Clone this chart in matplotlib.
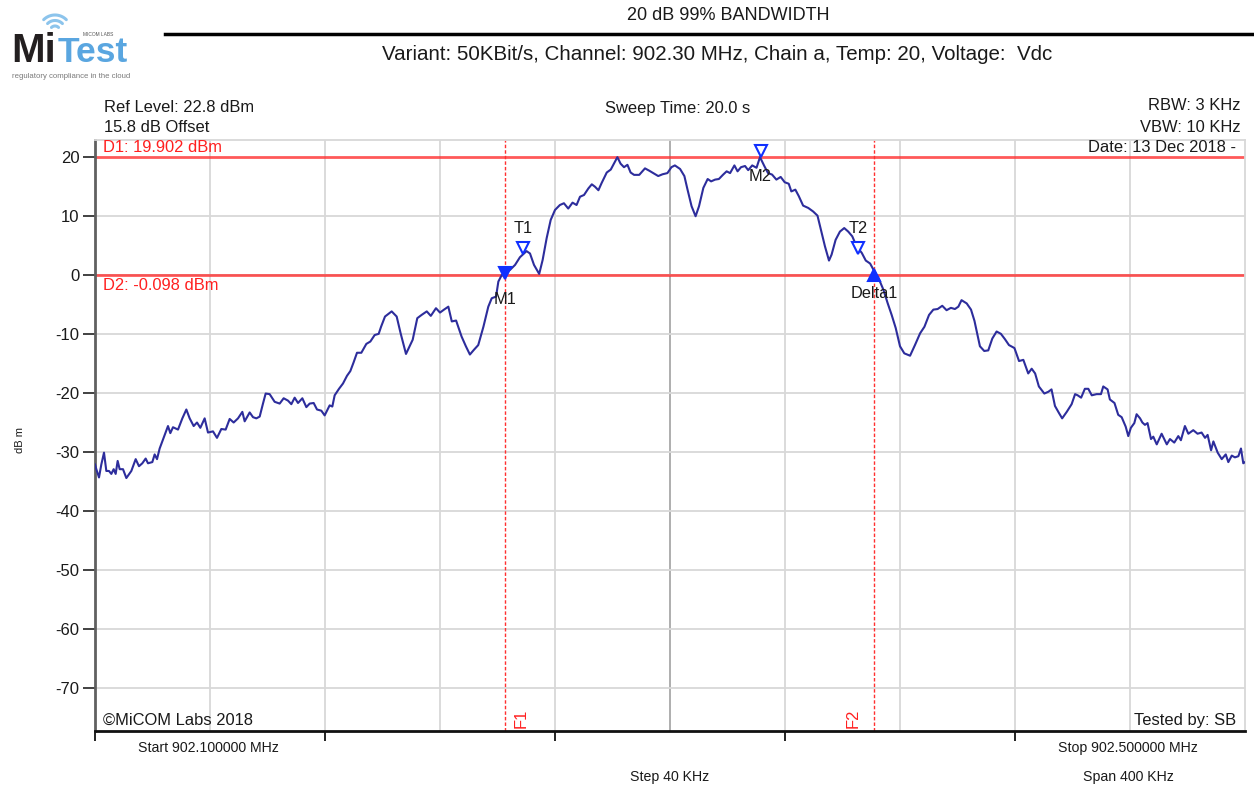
import numpy as np
import matplotlib
matplotlib.use("Agg")
import matplotlib.pyplot as plt
from matplotlib.lines import Line2D

plt.rcParams['font.family'] = ['Liberation Sans', 'DejaVu Sans']

W, H = 1254, 789

# ---------------- data ----------------
start_mhz = 902.1
stop_mhz = 902.5
step_khz = 40

# trace: frequency offset from start (kHz) and level (dBm)
trace_khz = [
    0, 0.46, 1.39, 2.2, 3.13, 3.94, 4.87, 5.68, 6.49, 7.19, 7.88, 8.58, 9.74, 10.9, 12.64,
    14.15, 15.3, 16.46, 17.62, 18.43, 19.94, 20.75, 21.57, 22.49, 23.88, 25.39, 26.2, 27.13,
    28.87, 30.38, 31.77, 32.93, 34.32, 35.48, 36.64, 38.14, 39.3, 41.04, 42.43, 43.94, 45.45,
    46.84, 48.23, 49.74, 51.25, 52.06, 53.8, 54.96, 56.12, 57.28, 58.43, 59.36, 60.75, 62.49,
    64.23, 65.62, 67.13, 68.29, 69.45, 70.61, 72.12, 73.51, 74.67, 76.06, 77.22, 78.72, 79.88,
    81.62, 82.55, 83.36, 84.87, 86.26, 87.65, 88.81, 89.97, 91.13, 92.64, 94.38, 95.77, 97.28,
    98.67, 99.5, 100.87, 103.19, 104.93, 106.3, 108.17, 110.5, 112.1, 113.6, 115.4, 116.8,
    118.6, 120.0, 121.4, 122.9, 124.1, 125.6, 127.5, 129.0, 130.4, 131.8, 133.3, 135.1, 136.8,
    138.0, 139.5, 140.3, 141.5, 142.6, 144.3, 146.1, 147.8, 150.1, 151.3, 152.7, 154.5, 155.7,
    157.1, 158.5, 160.0, 161.7, 163.1, 164.6, 166.1, 167.5, 168.7, 170.1, 171.6, 172.8, 173.9,
    175.1, 176.2, 178.0, 179.4, 180.5, 181.7, 182.8, 184.0, 185.2, 186.3, 187.5, 189.3, 191.3,
    192.8, 194.2, 195.9, 197.4, 199.1, 200.5, 201.7, 203.5, 205.0, 206.1, 207.5, 208.9, 210.1,
    211.6, 213.1, 214.3, 215.7, 217.0, 218.5, 219.7, 220.9, 222.4, 223.5, 224.7, 226.1, 227.2,
    228.6, 230.1, 231.3, 232.8, 234.1, 235.5, 237.0, 238.5, 239.9, 241.3, 242.2, 243.6, 244.8,
    246.3, 248.1, 249.8, 251.3, 252.5, 253.9, 255.3, 256.2, 257.6, 259.1, 260.6, 262.0, 263.4,
    264.9, 266.7, 268.1, 269.6, 271.1, 272.5, 274.2, 275.7, 277.1, 278.5, 280.0, 281.5, 283.5,
    285.2, 287.0, 288.5, 290.1, 291.6, 293.1, 294.7, 296.2, 297.7, 299.1, 300.3, 301.4, 303.2,
    304.7, 305.9, 306.7, 307.8, 309.3, 310.7, 312.1, 313.6, 315.1, 316.5, 317.9, 319.8, 321.4,
    322.9, 324.6, 325.8, 327.0, 328.3, 330.2, 331.6, 332.7, 333.9, 335.3, 336.4, 338.0, 339.7,
    340.9, 341.8, 343.0, 344.3, 345.5, 346.7, 348.4, 349.9, 350.7, 352.2, 353.0, 354.6, 355.9,
    357.1, 358.5, 359.4, 360.3, 361.5, 362.3, 363.5, 364.3, 365.2, 366.1, 367.3, 368.1, 369.3,
    371.0, 372.8, 373.9, 375.4, 376.8, 377.7, 379.1, 380.3, 382.0, 383.5, 384.9, 386.1, 387.0,
    388.2, 389.0, 390.5, 391.9, 393.3, 394.2, 395.4, 396.5, 397.7, 398.6, 399.4, 400.0,
]
trace_dbm = [
    -32.1, -32.9, -34.3, -32.1, -30.1, -33.2, -33.2, -33.7, -32.9, -33.7, -31.5, -32.9, -32.9, -34.4, -33.2,
    -31.2, -32.4, -31.9, -31.1, -31.9, -31.7, -30.4, -31.2, -29.4, -27.6, -25.6, -26.8, -25.8,
    -26.2, -24.3, -22.8, -24.3, -25.6, -25.0, -25.9, -24.3, -26.7, -26.5, -27.6, -26.1, -26.2,
    -24.4, -25.0, -24.3, -23.2, -24.8, -23.3, -24.1, -24.3, -24.0, -21.8, -20.1, -20.2, -21.5,
    -21.8, -20.9, -21.3, -21.9, -20.8, -21.7, -20.9, -22.4, -21.8, -21.7, -22.8, -23.0, -23.8,
    -22.1, -22.3, -20.4, -19.3, -18.4, -17.1, -16.3, -14.8, -13.2, -13.2, -11.7, -11.3, -10.2,
    -10.0, -8.8, -7.07, -6.2, -7.07, -9.9, -13.4, -11.0, -7.35, -6.8, -6.2, -6.96,
    -5.66, -6.4, -5.9, -5.4, -7.9, -7.75, -10.45, -12.1, -13.5, -12.7, -11.9, -8.8, -5.4,
    -3.97, -3.7, -1.15, -0.03, 0.25, 0.8, 1.66, 2.96, 4.0, 3.6, 1.66, 0.14, 2.5,
    6.2, 9.27, 10.96, 11.8, 12.1, 11.2, 12.2, 11.8, 13.2, 13.5, 14.6, 15.3, 14.9,
    14.3, 15.5, 17.3, 17.8, 18.8, 19.9, 18.8, 18.2, 18.6, 17.3, 16.9, 16.9, 18.0,
    17.6, 17.2, 16.7, 17.0, 17.2, 18.2, 18.5, 17.9, 16.7, 14.4, 11.6, 9.9, 11.6,
    14.7, 16.2, 15.8, 16.1, 16.2, 16.95, 17.5, 17.2, 18.5, 17.5, 18.2, 18.4, 17.7,
    18.5, 18.1, 19.9, 18.4, 17.2, 16.95, 16.1, 16.55, 15.65, 15.4, 14.1, 14.4, 13.3,
    11.7, 11.3, 10.7, 10.0, 7.6, 4.8, 2.4, 3.4, 5.9, 7.3, 7.9, 7.3, 6.5,
    4.8, 3.7, 2.4, 1.9, 0.56, -0.56, -2.5, -4.8, -6.8, -9.0, -12.1, -13.3, -13.7,
    -11.9, -9.9, -8.8, -6.8, -5.9, -5.8, -5.25, -6.0, -5.6, -5.8, -5.4, -4.3, -4.85,
    -5.9, -7.8, -9.6, -12.1, -12.9, -12.8, -10.8, -9.6, -10.0, -10.9, -11.9, -12.4, -14.6,
    -14.4, -16.7, -15.9, -16.7, -18.9, -20.1, -19.8, -19.4, -22.2, -23.4, -24.3, -23.2, -21.9,
    -20.2, -20.4, -20.8, -19.3, -19.3, -20.4, -20.2, -20.2, -18.9, -19.4, -21.1, -21.7, -23.7,
    -24.1, -25.7, -27.3, -25.9, -25.1, -23.6, -24.3, -25.0, -25.4, -25.1, -27.8, -27.4, -28.7,
    -26.9, -28.7, -27.8, -28.4, -27.3, -28.0, -25.6, -26.9, -26.3, -26.9, -26.7, -27.6, -27.1,
    -29.7, -28.2, -30.1, -31.2, -30.4, -31.7, -30.6, -30.9, -30.7, -29.4, -31.9, -31.7,
]

# display lines and frequency lines
d1_dbm = 19.902
d2_dbm = -0.098
f1_khz = 142.6
f2_khz = 271.1

# markers: name, freq offset (kHz), level (dBm, triangle centre), style
marker_names = ['M1', 'T1', 'M2', 'T2', 'Delta1']
marker_khz = [142.6, 149.0, 231.5, 265.5, 271.1]
marker_dbm = [0.35, 4.5, 21.0, 4.5, -0.1]
marker_symbol = ['v', 'v', 'v', 'v', '^']
marker_filled = [True, False, False, False, True]
marker_label_dy = [-19, 14, -18.5, 14, -13]   # label offset in points

y_ticks = [20, 10, 0, -10, -20, -30, -40, -50, -60, -70]
x_tick_khz = [0, 80, 160, 240, 320]

# ---------------- figure ----------------
fig = plt.figure(figsize=(W / 100, H / 100), dpi=100)


def fx(x):
    return x / W


def fy(y):
    return 1 - y / H


ax = fig.add_axes([fx(95), fy(731), fx(1245) - fx(95), fy(140) - fy(731)])
ax.set_xlim(start_mhz, stop_mhz)
ax.set_ylim(-77.2, 22.8)

freq = start_mhz + np.array(trace_khz) / 1000.0

# grid
for k in range(step_khz, 400, step_khz):
    c = '#a8a8a8' if k == 200 else '#d8d8d8'
    ax.axvline(start_mhz + k / 1000.0, color=c, lw=1.3, zorder=1)
for yv in y_ticks[1:]:
    ax.axhline(yv, color='#d8d8d8', lw=1.3, zorder=1)

# display lines
ax.axhline(d1_dbm, color='#ff3030', lw=2.0, alpha=0.8, zorder=2)
ax.axhline(d2_dbm, color='#ff3030', lw=2.0, alpha=0.8, zorder=2)
ax.axvline(start_mhz + f1_khz / 1000.0, color='#ff3030', lw=1.0, ls=(0, (2.5, 1.5)), zorder=2)
ax.axvline(start_mhz + f2_khz / 1000.0, color='#ff3030', lw=1.0, ls=(0, (2.5, 1.5)), zorder=2)

# trace
ax.plot(freq, trace_dbm, color='#2d2d9c', lw=1.5, zorder=3)

# markers
for name, k, lv, sym, filled, dy in zip(marker_names, marker_khz, marker_dbm,
                                         marker_symbol, marker_filled, marker_label_dy):
    xm = start_mhz + k / 1000.0
    ax.plot([xm], [lv], marker=sym, ms=8.5, mew=1.5,
            mfc='#1030ff' if filled else 'white', mec='#1030ff', zorder=5)
    ax.annotate(name, (xm, lv), xytext=(0, dy), textcoords='offset points',
                ha='center', va='center', fontsize=11.8, color='#1a1a1a', zorder=6)

# spines / ticks
for s in ['top', 'right']:
    ax.spines[s].set_color('#d8d8d8')
    ax.spines[s].set_linewidth(1.3)
ax.spines['left'].set_color('#606060')
ax.spines['left'].set_linewidth(2)
ax.spines['bottom'].set_color('#111111')
ax.spines['bottom'].set_linewidth(2)

ax.set_yticks(y_ticks)
ax.set_yticklabels([str(v) for v in y_ticks])
ax.tick_params(axis='y', length=9, width=1.3, color='#333333', labelsize=12, pad=2,
               labelcolor='#1a1a1a')
ax.set_xticks([start_mhz + k / 1000.0 for k in x_tick_khz])
ax.set_xticklabels([''] * len(x_tick_khz))
ax.tick_params(axis='x', length=7, width=1.3, color='#111111')

# ---------------- texts ----------------
tc = '#1a1a1a'
fs = 11.9
fig.text(fx(728), fy(15), '20 dB 99% BANDWIDTH', ha='center', va='center', fontsize=13, color=tc)
fig.text(fx(717), fy(55), 'Variant: 50KBit/s, Channel: 902.30 MHz, Chain a, Temp: 20, Voltage:  Vdc',
         ha='center', va='center', fontsize=14.8, color=tc)
fig.add_artist(Line2D([fx(165), 1.0], [fy(34), fy(34)], color='black', lw=2.5))

fig.text(fx(104), fy(107), 'Ref Level: 22.8 dBm', ha='left', va='center', fontsize=fs, color=tc)
fig.text(fx(104), fy(127), '15.8 dB Offset', ha='left', va='center', fontsize=fs, color=tc)
fig.text(fx(678), fy(108), 'Sweep Time: 20.0 s', ha='center', va='center', fontsize=fs, color=tc)
fig.text(fx(1241), fy(106), 'RBW: 3 KHz', ha='right', va='center', fontsize=fs, color=tc)
fig.text(fx(1241), fy(127), 'VBW: 10 KHz', ha='right', va='center', fontsize=fs, color=tc)
fig.text(fx(1236), fy(148), 'Date: 13 Dec 2018 -', ha='right', va='center', fontsize=fs, color=tc)

fig.text(fx(103), fy(147), 'D1: 19.902 dBm', ha='left', va='center', fontsize=fs, color='#ff2020')
fig.text(fx(103), fy(285), 'D2: -0.098 dBm', ha='left', va='center', fontsize=fs, color='#ff2020')
fig.text(fx(103), fy(720), '\u00a9MiCOM Labs 2018', ha='left', va='center', fontsize=fs, color=tc)
fig.text(fx(1236), fy(720), 'Tested by: SB', ha='right', va='center', fontsize=fs, color=tc)
fig.text(fx(521), fy(718), 'F1', ha='center', va='center', rotation=90, fontsize=fs, color='#ff2020')
fig.text(fx(853), fy(718), 'F2', ha='center', va='center', rotation=90, fontsize=fs, color='#ff2020')

fig.text(fx(208), fy(748), 'Start 902.100000 MHz', ha='center', va='center', fontsize=10.2, color=tc)
fig.text(fx(1128), fy(748), 'Stop 902.500000 MHz', ha='center', va='center', fontsize=10.2, color=tc)
fig.text(fx(670), fy(777), 'Step 40 KHz', ha='center', va='center', fontsize=10.2, color=tc)
fig.text(fx(1128), fy(777), 'Span 400 KHz', ha='center', va='center', fontsize=10.2, color=tc)
fig.text(fx(20), fy(440), 'dB m', ha='center', va='center', rotation=90, fontsize=8, color=tc)

# ---------------- logo ----------------
lax = fig.add_axes([0, fy(85), fx(165), fy(0) - fy(85)])
lax.set_xlim(0, 165)
lax.set_ylim(85, 0)
lax.axis('off')
lax.text(11, 62.5, 'Mi', fontsize=29, fontweight='bold', color='#231f20', va='baseline', ha='left')
lax.text(58, 62.5, 'Test', fontsize=25.5, fontweight='bold', color='#5aa6e0', va='baseline', ha='left')
lax.text(83, 34, 'MICOM LABS', fontsize=3.5, color='#555555', va='center', ha='left')
lax.text(12, 76.5, 'regulatory compliance in the cloud', fontsize=5.6, color='#7a7a7a',
         va='center', ha='left')
th = np.linspace(np.radians(45), np.radians(135), 30)
for r in [5, 10.5, 16]:
    lax.plot(55 + r * np.cos(th), 31 - r * np.sin(th), color='#8cc4ec', lw=2.2,
             solid_capstyle='round')

fig.savefig('out.png', dpi=100)
